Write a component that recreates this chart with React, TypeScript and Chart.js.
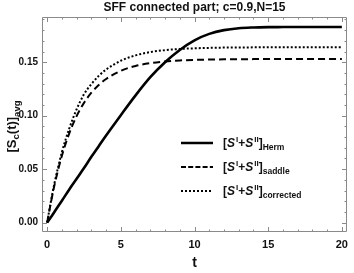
import React, { useEffect, useRef } from 'react';
import { Chart, registerables } from 'chart.js';

Chart.register(...registerables);

const chartTitle = 'SFF connected part; c=0.9,N=15';
const xTitle = 't';
const tValues = [0, 0.25, 0.5, 1, 1.5, 2, 2.5, 3, 3.5, 4, 5, 6, 7, 8, 9, 10, 11, 12, 13, 14, 15, 16, 17, 18, 19, 20];
const hermValues = [0, 0.005, 0.0102, 0.0205, 0.031, 0.041, 0.051, 0.0615, 0.0715, 0.0815, 0.1005, 0.119, 0.136, 0.150, 0.1615, 0.1705, 0.1765, 0.1800, 0.1818, 0.1825, 0.1828, 0.1829, 0.183, 0.183, 0.183, 0.183];
const saddleValues = [0, 0.0185, 0.0353, 0.0626, 0.0835, 0.0996, 0.112, 0.1215, 0.1287, 0.1343, 0.142, 0.1465, 0.1492, 0.1507, 0.1517, 0.1522, 0.1525, 0.1527, 0.1528, 0.1529, 0.153, 0.153, 0.153, 0.153, 0.153, 0.153];
const correctedValues = [0, 0.0195, 0.037, 0.0658, 0.088, 0.106, 0.12, 0.1295, 0.1372, 0.1431, 0.1514, 0.1564, 0.1595, 0.1613, 0.1624, 0.163, 0.1634, 0.1637, 0.1638, 0.1639, 0.164, 0.164, 0.164, 0.164, 0.164, 0.164];
const seriesSubscripts = ['Herm', 'saddle', 'corrected'];
const xMajorTicks = [0, 5, 10, 15, 20];
const yMajorTicks = [0, 0.05, 0.1, 0.15];

const FONT = '"Liberation Sans", Arial, sans-serif';

type Part = { t: string; size: number; italic?: boolean; dy?: number; gap?: number };

function drawRich(ctx: CanvasRenderingContext2D, x: number, y: number, parts: Part[], center = false) {
  const fontOf = (p: Part) => `${p.italic ? 'italic ' : ''}bold ${p.size}px ${FONT}`;
  let total = 0;
  for (const p of parts) {
    ctx.font = fontOf(p);
    total += ctx.measureText(p.t).width + (p.gap || 0);
  }
  let cx = center ? x - total / 2 : x;
  ctx.textBaseline = 'alphabetic';
  ctx.textAlign = 'left';
  for (const p of parts) {
    ctx.font = fontOf(p);
    ctx.fillText(p.t, cx, y + (p.dy || 0));
    cx += ctx.measureText(p.t).width + (p.gap || 0);
  }
}

const decorPlugin = {
  id: 'decor',
  afterDatasetsDraw(chart: any) {
    const ctx: CanvasRenderingContext2D = chart.ctx;
    const { left, right, top, bottom } = chart.chartArea;
    const xs = chart.scales.x;
    const ys = chart.scales.y;
    ctx.save();
    // frame
    ctx.strokeStyle = '#8a8a8a';
    ctx.lineWidth = 1;
    ctx.beginPath();
    ctx.rect(Math.round(left) + 0.5, Math.round(top) + 0.5, Math.round(right - left) - 1, Math.round(bottom - top) - 1);
    ctx.stroke();
    ctx.beginPath();
    for (let v = 0; v <= 20; v += 1) {
      const px = Math.round(xs.getPixelForValue(v)) + 0.5;
      const len = v % 5 === 0 ? 5 : 2.5;
      ctx.moveTo(px, bottom);
      ctx.lineTo(px, bottom - len);
      ctx.moveTo(px, top);
      ctx.lineTo(px, top + len);
    }
    for (let i = 0; i <= 19; i++) {
      const v = i / 100;
      const py = Math.round(ys.getPixelForValue(v)) + 0.5;
      const len = i % 5 === 0 ? 5 : 2.5;
      ctx.moveTo(left, py);
      ctx.lineTo(left + len, py);
      ctx.moveTo(right, py);
      ctx.lineTo(right - len, py);
    }
    ctx.stroke();

    ctx.fillStyle = '#111';
    // title
    ctx.font = `bold 12px ${FONT}`;
    ctx.textAlign = 'center';
    ctx.textBaseline = 'middle';
    ctx.fillText(chartTitle, (left + right) / 2, 7.5);

    // y title
    ctx.save();
    ctx.translate(11, (top + bottom) / 2 + 2);
    ctx.rotate(-Math.PI / 2);
    drawRich(ctx, 0, 5, [
      { t: '[S', size: 13 },
      { t: 'c', size: 9.5, dy: 3 },
      { t: '(t)]', size: 13 },
      { t: 'avg', size: 9.5, dy: 3.5 },
    ], true);
    ctx.restore();

    // legend
    const rows = [143, 167, 191];
    const dashes = [[], [5, 2.2], [2, 2]];
    rows.forEach((ry, i) => {
      ctx.strokeStyle = '#000';
      ctx.lineWidth = i === 0 ? 2.5 : 2;
      ctx.setLineDash(dashes[i]);
      ctx.beginPath();
      ctx.moveTo(181, ry);
      ctx.lineTo(213, ry);
      ctx.stroke();
      ctx.setLineDash([]);
      drawRich(ctx, 223, ry + 4, [
        { t: '[', size: 12 },
        { t: 'S', size: 12, italic: true, gap: 1 },
        { t: 'I', size: 8, dy: -5 },
        { t: '+', size: 12 },
        { t: 'S', size: 12, italic: true, gap: 1 },
        { t: 'II', size: 8, dy: -5 },
        { t: ']', size: 12 },
        { t: seriesSubscripts[i], size: 8.5, dy: 3 },
      ]);
    });
    ctx.restore();
  },
};

export default function App() {
  const ref = useRef<HTMLCanvasElement>(null);
  useEffect(() => {
    if (!ref.current) return;
    const mk = (vals: number[]) => tValues.map((t, i) => ({ x: t, y: vals[i] }));
    const chart = new Chart(ref.current, {
      type: 'line',
      data: {
        datasets: [
          { label: 'Herm', data: mk(hermValues), borderColor: '#000', borderWidth: 2.6, pointRadius: 0, cubicInterpolationMode: 'monotone', fill: false },
          { label: 'saddle', data: mk(saddleValues), borderColor: '#000', borderWidth: 2, borderDash: [7, 4], pointRadius: 0, cubicInterpolationMode: 'monotone', fill: false },
          { label: 'corrected', data: mk(correctedValues), borderColor: '#000', borderWidth: 2, borderDash: [2, 2], pointRadius: 0, cubicInterpolationMode: 'monotone', fill: false },
        ],
      },
      options: {
        animation: false,
        responsive: false,
        layout: { padding: { left: 0, top: 17, right: 2, bottom: 0 } },
        plugins: { legend: { display: false }, tooltip: { enabled: false }, title: { display: false } },
        scales: {
          x: {
            type: 'linear',
            min: -0.35,
            max: 20.35,
            grid: { display: false, drawTicks: false },
            border: { display: false },
            afterBuildTicks: (s: any) => { s.ticks = xMajorTicks.map((v) => ({ value: v })); },
            afterFit: (s: any) => { s.height = 41; },
            ticks: { padding: 6, color: '#111', font: { family: FONT, size: 11, weight: 'bold' }, maxRotation: 0, callback: (v: any) => String(v) },
            title: { display: true, text: xTitle, color: '#111', font: { family: FONT, size: 14, weight: 'bold' }, padding: { top: 0, bottom: 1 } },
          },
          y: {
            type: 'linear',
            min: -0.0088,
            max: 0.1923,
            grid: { display: false, drawTicks: false },
            border: { display: false },
            afterBuildTicks: (s: any) => { s.ticks = yMajorTicks.map((v) => ({ value: v })); },
            afterFit: (s: any) => { s.width = 42; },
            ticks: { padding: 4, color: '#111', font: { family: FONT, size: 10, weight: 'bold' }, callback: (v: any) => Number(v).toFixed(2) },
          },
        },
      } as any,
      plugins: [decorPlugin],
    });
    return () => chart.destroy();
  }, []);
  return (
    <div style={{ position: 'absolute', left: 0, top: 0, width: 354, height: 273, background: '#fff' }}>
      <canvas ref={ref} width={354} height={273} />
    </div>
  );
}
